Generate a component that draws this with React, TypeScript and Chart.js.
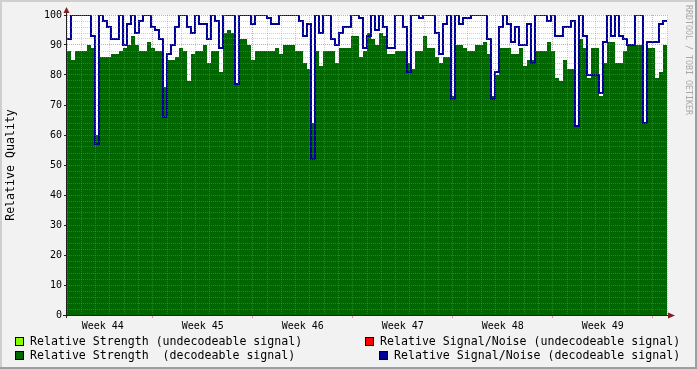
import React, { useEffect, useRef } from "react";
import { Chart, registerables } from "chart.js";

Chart.register(...registerables);

// Time axis in days from Monday of week 44
const startDay = 1;
const endDay = 43;
const weekTicks = [7, 14, 21, 28, 35, 42];
const weekLabels = ["Week 44", "Week 45", "Week 46", "Week 47", "Week 48", "Week 49"];
const yMin = 0;
const yMax = 100;

// Relative Strength (decodeable signal), equal time steps across the range
const strength = [
  88, 85, 88, 88, 88, 90, 89, 60, 86, 86,
  86, 87, 87, 88, 89, 90, 93, 90, 88, 88,
  91, 89, 88, 88, 76, 85, 85, 86, 89, 88,
  78, 87, 88, 88, 90, 84, 88, 88, 81, 94,
  95, 94, 77, 92, 92, 90, 85, 88, 88, 88,
  88, 88, 89, 87, 90, 90, 90, 88, 88, 84,
  82, 64, 88, 83, 88, 88, 88, 84, 89, 89,
  89, 93, 93, 86, 88, 94, 92, 90, 94, 93,
  87, 87, 88, 88, 88, 84, 82, 88, 88, 93,
  89, 89, 86, 84, 86, 86, 73, 90, 90, 89,
  88, 88, 90, 90, 91, 87, 73, 80, 89, 89,
  89, 87, 87, 89, 83, 85, 85, 88, 88, 88,
  91, 88, 79, 78, 85, 82, 82, 63, 92, 89,
  79, 89, 89, 73, 84, 91, 91, 84, 84, 88,
  90, 90, 90, 90, 64, 89, 89, 79, 81, 90,
];

// Relative Signal/Noise (decodeable signal)
const signalNoise = [
  92, 100, 100, 100, 100, 100, 93, 57, 100, 98,
  96, 92, 92, 100, 90, 97, 100, 94, 98, 100,
  100, 96, 95, 92, 66, 87, 90, 96, 100, 100,
  96, 94, 100, 97, 97, 92, 100, 98, 89, 100,
  100, 100, 77, 100, 100, 100, 97, 100, 100, 100,
  99, 97, 97, 100, 100, 100, 100, 100, 98, 93,
  97, 52, 100, 94, 100, 100, 92, 90, 94, 96,
  96, 100, 100, 99, 89, 93, 100, 95, 100, 96,
  89, 89, 100, 100, 96, 81, 100, 100, 99, 100,
  100, 100, 94, 87, 97, 100, 72, 100, 97, 99,
  99, 100, 100, 100, 100, 92, 72, 81, 96, 100,
  97, 91, 96, 90, 90, 97, 84, 100, 100, 100,
  98, 100, 93, 93, 96, 96, 98, 63, 100, 93,
  80, 80, 80, 74, 91, 100, 93, 100, 93, 92,
  90, 90, 100, 100, 64, 91, 91, 91, 97, 98,
];

const legendLabels = [
  "Relative Strength (undecodeable signal)",
  "Relative Signal/Noise (undecodeable signal)",
  "Relative Strength  (decodeable signal)",
  "Relative Signal/Noise (decodeable signal)",
];
const legendColors = ["#88FF00", "#FF0000", "#006600", "#000094"];

const yTitle = "Relative Quality";
const watermark = "RRDTOOL / TOBI OETIKER";

const FONT = "'DejaVu Sans Mono', monospace";
const MINOR = "rgba(143,143,143,0.42)";
const MAJOR = "rgba(222,79,79,0.55)";

function toPoints(vals: number[]) {
  const step = (endDay - startDay) / vals.length;
  const pts = vals.map((v, i) => ({ x: startDay + i * step, y: v }));
  pts.push({ x: endDay, y: vals[vals.length - 1] });
  return pts;
}

const rrdPlugin = {
  id: "rrdStyle",
  beforeDraw(chart: any) {
    const { ctx, chartArea: a, width, height } = chart;
    ctx.save();
    ctx.fillStyle = "#F2F2F2";
    ctx.fillRect(0, 0, width, height);
    ctx.fillStyle = "#FFFFFF";
    ctx.fillRect(a.left, a.top, a.right - a.left, a.bottom - a.top);
    ctx.restore();
  },
  afterDraw(chart: any) {
    const { ctx, chartArea: a, width, height } = chart;
    ctx.save();
    // shaded frame
    ctx.fillStyle = "#CFCFCF";
    ctx.fillRect(0, 0, width, 2);
    ctx.fillRect(0, 0, 2, height);
    ctx.fillStyle = "#9E9E9E";
    ctx.fillRect(0, height - 2, width, 2);
    ctx.fillRect(width - 2, 0, 2, height);

    // axes
    ctx.strokeStyle = "#1F1F1F";
    ctx.lineWidth = 1;
    ctx.beginPath();
    ctx.moveTo(a.left - 4, a.bottom + 0.5);
    ctx.lineTo(a.right + 2, a.bottom + 0.5);
    ctx.moveTo(a.left - 0.5, a.bottom + 3);
    ctx.lineTo(a.left - 0.5, a.top - 3);
    ctx.stroke();

    // arrows
    ctx.fillStyle = "rgb(128,31,31)";
    ctx.beginPath();
    ctx.moveTo(a.left - 0.5, a.top - 8);
    ctx.lineTo(a.left - 3.5, a.top - 2);
    ctx.lineTo(a.left + 2.5, a.top - 2);
    ctx.closePath();
    ctx.fill();
    ctx.beginPath();
    ctx.moveTo(a.right + 8, a.bottom + 0.5);
    ctx.lineTo(a.right + 1, a.bottom - 2.5);
    ctx.lineTo(a.right + 1, a.bottom + 3.5);
    ctx.closePath();
    ctx.fill();

    // legend
    const rows = [
      [{ sq: 15, tx: 30, i: 0 }, { sq: 365, tx: 380, i: 1 }],
      [{ sq: 15, tx: 30, i: 2 }, { sq: 379, tx: 394, i: 3 }],
    ];
    const rowY = [341, 355];
    ctx.font = `11.6px ${FONT}`;
    ctx.textBaseline = "middle";
    ctx.textAlign = "left";
    rows.forEach((row, r) => {
      row.forEach((it) => {
        const y = rowY[r];
        ctx.fillStyle = legendColors[it.i];
        ctx.fillRect(it.sq, y - 4, 8, 8);
        ctx.strokeStyle = "#000";
        ctx.lineWidth = 1;
        ctx.strokeRect(it.sq + 0.5, y - 3.5, 8, 8);
        ctx.fillStyle = "#000";
        ctx.fillText(legendLabels[it.i], it.tx, y + 0.5);
      });
    });

    // watermark
    ctx.translate(688, 5);
    ctx.rotate(Math.PI / 2);
    ctx.font = `8.3px ${FONT}`;
    ctx.fillStyle = "#A8A8A8";
    ctx.textBaseline = "middle";
    ctx.fillText(watermark, 0, 0);
    ctx.restore();
  },
};

export default function App() {
  const ref = useRef<HTMLCanvasElement | null>(null);

  useEffect(() => {
    if (!ref.current) return;
    const chart = new Chart(ref.current, {
      type: "line",
      data: {
        datasets: [
          {
            label: legendLabels[3],
            data: toPoints(signalNoise),
            borderColor: legendColors[3],
            borderWidth: 2,
            stepped: true,
            pointRadius: 0,
            fill: false,
          },
          {
            label: legendLabels[2],
            data: toPoints(strength),
            borderColor: legendColors[2],
            backgroundColor: legendColors[2],
            borderWidth: 0,
            stepped: true,
            pointRadius: 0,
            fill: "origin",
          },
        ],
      },
      options: {
        responsive: false,
        animation: false,
        events: [],
        layout: { padding: { top: 15, right: 30, left: 0, bottom: 0 } },
        plugins: { legend: { display: false }, tooltip: { enabled: false } },
        scales: {
          x: {
            type: "linear",
            min: startDay,
            max: endDay,
            afterBuildTicks(scale: any) {
              const t = [];
              for (let d = startDay; d <= endDay; d++) t.push({ value: d });
              scale.ticks = t;
            },
            afterFit(scale: any) {
              scale.height = 54;
            },
            border: { display: false, dash: [1, 1] },
            grid: {
              z: 1,
              color: (c: any) =>
                c.tick && weekTicks.includes(c.tick.value) ? MAJOR : MINOR,
              tickColor: (c: any) =>
                c.tick && weekTicks.includes(c.tick.value) ? MAJOR : "rgba(0,0,0,0)",
              tickLength: 3,
              lineWidth: 1,
            },
            ticks: {
              autoSkip: false,
              maxRotation: 0,
              minRotation: 0,
              padding: 2,
              labelOffset: -50,
              color: "#000",
              font: { family: FONT, size: 10 },
              callback: (v: any) => {
                const k = weekTicks.indexOf(v);
                return k >= 0 ? weekLabels[k] : "";
              },
            },
          },
          y: {
            min: yMin,
            max: yMax,
            afterFit(scale: any) {
              scale.width = 67;
            },
            border: { display: false, dash: [1, 1] },
            grid: {
              z: 1,
              color: (c: any) =>
                c.tick && c.tick.value % 10 === 0 ? MAJOR : MINOR,
              tickColor: (c: any) =>
                c.tick && c.tick.value % 10 === 0 ? "#1F1F1F" : "rgba(0,0,0,0)",
              tickLength: 3,
              lineWidth: 1,
            },
            ticks: {
              stepSize: 2,
              autoSkip: false,
              padding: 2,
              color: "#000",
              font: { family: FONT, size: 10 },
              callback: (v: any) => (v % 10 === 0 ? String(v) : ""),
            },
            title: {
              display: true,
              text: yTitle,
              color: "#000",
              padding: { top: 4, bottom: 0 },
              font: { family: FONT, size: 11.6 },
            },
          },
        },
      },
      plugins: [rrdPlugin],
    } as any);
    return () => chart.destroy();
  }, []);

  return (
    <div style={{ position: "absolute", left: 0, top: 0 }}>
      <canvas ref={ref} width={697} height={369} style={{ display: "block" }} />
    </div>
  );
}
